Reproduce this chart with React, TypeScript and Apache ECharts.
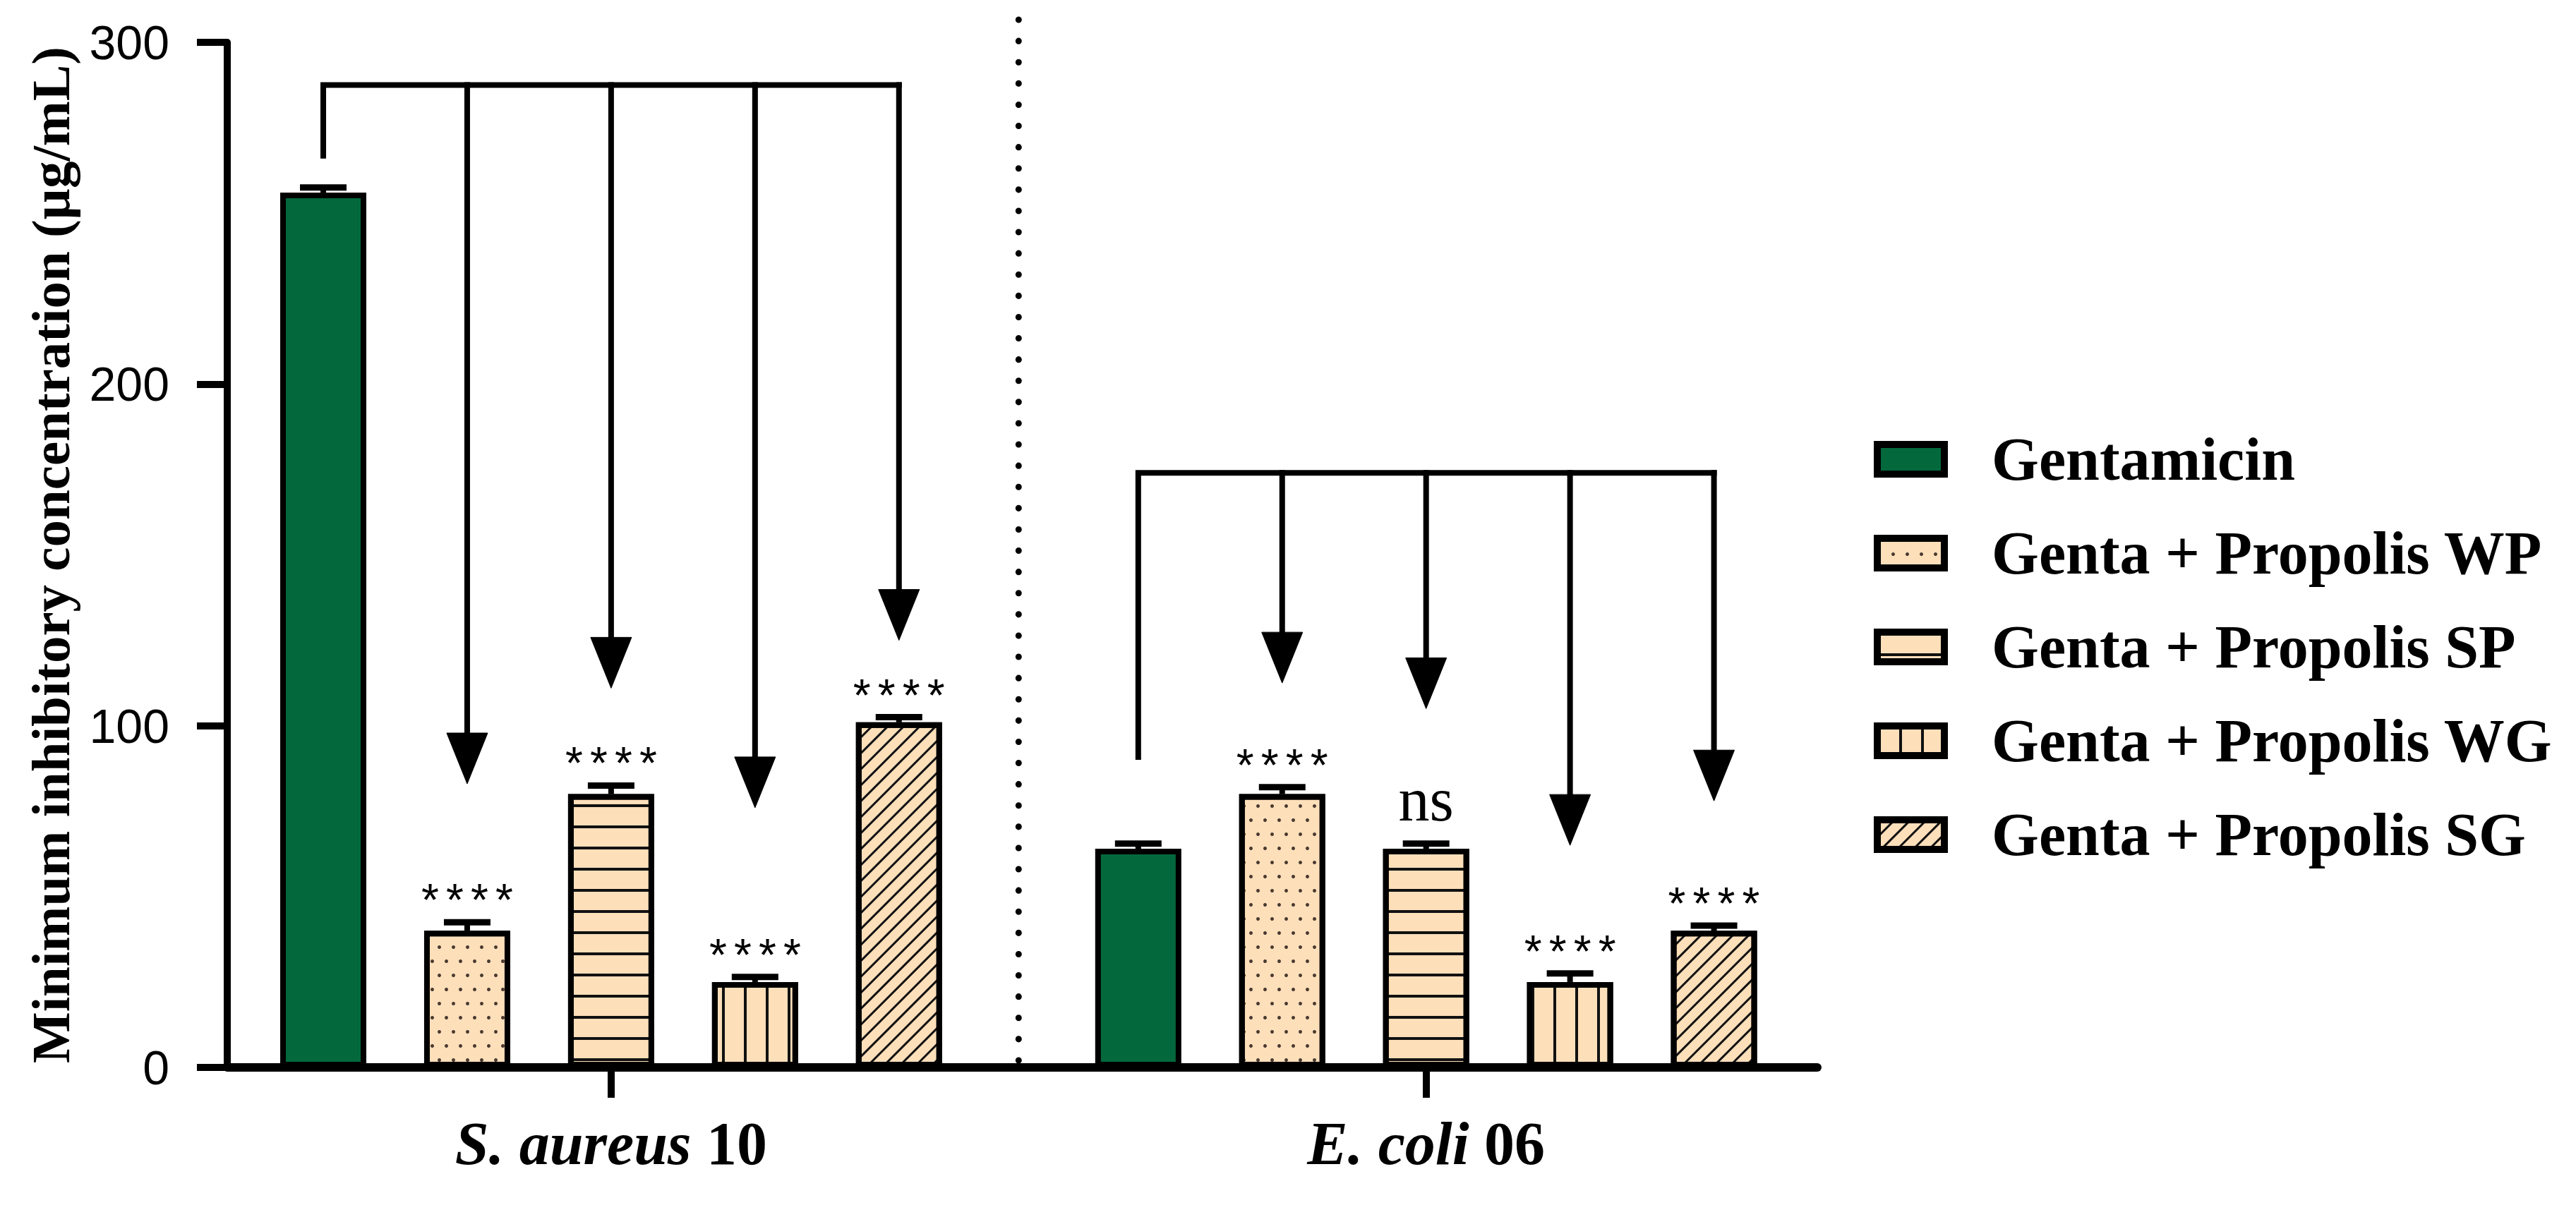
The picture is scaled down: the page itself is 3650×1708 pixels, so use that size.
import React, { useEffect, useRef } from "react";
import * as echarts from "echarts";

// ---- data ----
const species = ["S. aureus", "E. coli"];
const strains = ["10", "06"];
const seriesNames = [
  "Gentamicin",
  "Genta + Propolis WP",
  "Genta + Propolis SP",
  "Genta + Propolis WG",
  "Genta + Propolis SG",
];
const gentamicin = [256, 64];
const propolisWP = [40, 80];
const propolisSP = [80, 64];
const propolisWG = [25, 25];
const propolisSG = [101, 40];
const gentamicinErr = [1.5, 1.5];
const propolisWPErr = [2.5, 2];
const propolisSPErr = [2.5, 1.5];
const propolisWGErr = [1.5, 2.5];
const propolisSGErr = [1.5, 1.5];
const sigSAureus = ["", "****", "****", "****", "****"];
const sigEColi = ["", "****", "ns", "****", "****"];
const bracketTop = [287.5, 174];
const bracketLeftEnd = [266, 90];
const arrowTipsSAureus = [83, 111, 76, 125];
const arrowTipsEColi = [112.5, 105, 65, 78];
const yTicks = [0, 100, 200, 300];
const dividerTop = 307;

const values = [gentamicin, propolisWP, propolisSP, propolisWG, propolisSG];
const errors = [gentamicinErr, propolisWPErr, propolisSPErr, propolisWGErr, propolisSGErr];
const sigs = [sigSAureus, sigEColi];
const arrowTips = [arrowTipsSAureus, arrowTipsEColi];

// ---- layout / style ----
const W = 3650;
const H = 1708;
const BAR_STEP = 0.1766;
const X_MIN = -0.471;
const X_MAX = 1.48;
const GREEN = "#03693D";
const PEACH = "#FDDFBA";
const SERIF = "'Liberation Serif', 'Times New Roman', serif";
const SANS = "'Liberation Sans', Arial, sans-serif";

const decals: any[] = [
  null,
  {
    symbol: "circle",
    symbolSize: 1,
    color: "#4a3a30",
    dashArrayX: [
      [5, 15],
      [0, 10, 5, 5],
    ],
    dashArrayY: [5, 15],
  },
  {
    symbol: "rect",
    symbolSize: 1,
    symbolKeepAspect: false,
    color: "#111",
    dashArrayX: [1, 0],
    dashArrayY: [4, 26],
  },
  {
    symbol: "rect",
    symbolSize: 1,
    symbolKeepAspect: false,
    color: "#111",
    dashArrayX: [4, 27],
    dashArrayY: [1, 0],
  },
  {
    symbol: "rect",
    symbolSize: 1,
    symbolKeepAspect: false,
    color: "#111",
    dashArrayX: [1, 0],
    dashArrayY: [3, 13],
    rotation: -Math.PI / 4,
  },
];

const xOf = (c: number, s: number) => c + (s - 2) * BAR_STEP;

function buildOption(): any {
  const barSeries = seriesNames.map((name, s) => ({
    type: "bar",
    name,
    data: values[s].map((v, c) => [xOf(c, s), v]),
    barWidth: 122,
    barGap: "-100%",
    z: 2,
    itemStyle: {
      color: s === 0 ? GREEN : PEACH,
      borderColor: "#000",
      borderWidth: 8,
      ...(decals[s] ? { decal: decals[s] } : {}),
    },
  }));

  const errData: any[] = [];
  const sigData: any[] = [];
  values.forEach((arr, s) =>
    arr.forEach((v, c) => {
      errData.push([xOf(c, s), v, errors[s][c]]);
      sigData.push([xOf(c, s), v + errors[s][c], s, c]);
    })
  );

  const errorSeries = {
    type: "custom",
    name: "err",
    z: 3,
    clip: false,
    data: errData,
    renderItem: (params: any, api: any) => {
      const x = api.value(0);
      const v = api.value(1);
      const e = api.value(2);
      const p0 = api.coord([x, v]);
      const p1 = api.coord([x, v + e]);
      return {
        type: "group",
        children: [
          {
            type: "line",
            shape: { x1: p0[0], y1: p0[1], x2: p1[0], y2: p1[1] },
            style: { stroke: "#000", lineWidth: 8 },
          },
          {
            type: "line",
            shape: { x1: p1[0] - 33, y1: p1[1], x2: p1[0] + 33, y2: p1[1] },
            style: { stroke: "#000", lineWidth: 9 },
          },
        ],
      };
    },
  };

  const sigSeries = {
    type: "custom",
    name: "sig",
    z: 4,
    clip: false,
    data: sigData,
    renderItem: (params: any, api: any) => {
      const x = api.value(0);
      const top = api.value(1);
      const s = api.value(2);
      const c = api.value(3);
      const label = sigs[c][s];
      const p = api.coord([x, top]);
      const children: any[] = [];
      if (label && /^\*+$/.test(label)) {
        const n = label.length;
        for (let i = 0; i < n; i++) {
          children.push({
            type: "text",
            x: p[0] + (i - (n - 1) / 2) * 35,
            y: p[1] - 31,
            style: {
              text: "*",
              fontSize: 64,
              fontFamily: SANS,
              fill: "#000",
              textAlign: "center",
              textVerticalAlign: "middle",
            },
          });
        }
      } else if (label) {
        children.push({
          type: "text",
          x: p[0],
          y: p[1] - 62,
          style: {
            text: label,
            fontSize: 88,
            fontFamily: SERIF,
            fill: "#000",
            textAlign: "center",
            textVerticalAlign: "middle",
          },
        });
      }
      return { type: "group", children };
    },
  };

  const bracketSeries = {
    type: "custom",
    name: "brackets",
    z: 4,
    clip: false,
    data: [[0], [1]],
    renderItem: (params: any, api: any) => {
      const c = params.dataIndex;
      const top = api.coord([xOf(c, 0), bracketTop[c]]);
      const leftEnd = api.coord([xOf(c, 0), bracketLeftEnd[c]]);
      const lastX = api.coord([xOf(c, 4), 0])[0];
      const children: any[] = [
        {
          type: "polyline",
          shape: {
            points: [
              [leftEnd[0], leftEnd[1]],
              [top[0], top[1]],
              [lastX + 4, top[1]],
            ],
          },
          style: { stroke: "#000", lineWidth: 8, fill: null, lineJoin: "miter" },
        },
      ];
      arrowTips[c].forEach((tipV, k) => {
        const tip = api.coord([xOf(c, k + 1), tipV]);
        const headTop = tip[1] - 72;
        children.push({
          type: "line",
          shape: { x1: tip[0], y1: top[1] - 4, x2: tip[0], y2: headTop + 4 },
          style: { stroke: "#000", lineWidth: 8 },
        });
        children.push({
          type: "polygon",
          shape: {
            points: [
              [tip[0] - 29, headTop],
              [tip[0] + 29, headTop],
              [tip[0], tip[1]],
            ],
          },
          style: { fill: "#000", stroke: "#000", lineWidth: 1 },
        });
      });
      return { type: "group", children };
    },
  };

  const dividerSeries = {
    type: "custom",
    name: "divider",
    z: 1,
    clip: false,
    data: [[(0 + 1) / 2]],
    renderItem: (params: any, api: any) => {
      const x = api.value(0);
      const p0 = api.coord([x, 0]);
      const p1 = api.coord([x, dividerTop]);
      return {
        type: "line",
        shape: { x1: p0[0], y1: p0[1] - 10, x2: p1[0], y2: p1[1] },
        style: { stroke: "#000", lineWidth: 9, lineCap: "round", lineDash: [0.1, 30] },
      };
    },
  };

  return {
    animation: false,
    backgroundColor: "#fff",
    grid: {
      left: 322,
      right: W - 2575,
      top: 60,
      bottom: H - 1513,
      containLabel: false,
      outerBoundsMode: "none",
    },
    legend: {
      orient: "vertical",
      left: 2650,
      top: 603,
      itemWidth: 95,
      itemHeight: 42,
      itemGap: 47,
      icon: "rect",
      selectedMode: false,
      data: seriesNames,
      itemStyle: { borderColor: "#000", borderWidth: 10 },
      textStyle: {
        fontFamily: SERIF,
        fontWeight: "bold",
        fontSize: 86,
        color: "#000",
        padding: [0, 0, 0, 62],
      },
    },
    xAxis: {
      type: "value",
      min: X_MIN,
      max: X_MAX,
      splitLine: { show: false },
      axisLine: { show: true, onZero: false, lineStyle: { color: "#000", width: 12 } },
      axisTick: {
        show: true,
        customValues: [0, 1],
        length: 43,
        lineStyle: { color: "#000", width: 10 },
      },
      axisLabel: {
        show: true,
        customValues: [0, 1],
        margin: 65,
        fontFamily: SERIF,
        fontWeight: "bold",
        fontSize: 86,
        color: "#000",
        formatter: (val: number) => {
          const i = Math.round(val);
          return `{i|${species[i]}} {b|${strains[i]}}`;
        },
        rich: {
          i: { fontFamily: SERIF, fontWeight: "bold", fontStyle: "italic", fontSize: 86, color: "#000" },
          b: { fontFamily: SERIF, fontWeight: "bold", fontSize: 86, color: "#000" },
        },
      },
    },
    yAxis: {
      type: "value",
      min: yTicks[0],
      max: yTicks[yTicks.length - 1],
      interval: yTicks[1] - yTicks[0],
      name: "Minimum inhibitory concentration (µg/mL)",
      nameLocation: "middle",
      nameGap: 212,
      nameTextStyle: {
        fontFamily: SERIF,
        fontWeight: "bold",
        fontSize: 77,
        color: "#000",
      },
      splitLine: { show: false },
      axisLine: { show: true, onZero: false, lineStyle: { color: "#000", width: 10 } },
      axisTick: { show: true, length: 43, lineStyle: { color: "#000", width: 10 } },
      axisLabel: {
        margin: 82,
        fontFamily: SANS,
        fontSize: 68,
        color: "#000",
      },
    },
    series: [...barSeries, errorSeries, sigSeries, bracketSeries, dividerSeries],
  };
}

export default function App() {
  const ref = useRef<HTMLDivElement>(null);
  useEffect(() => {
    if (!ref.current) return;
    const chart = echarts.init(ref.current, undefined, { renderer: "svg" });
    chart.setOption(buildOption());
    return () => chart.dispose();
  }, []);
  return (
    <div
      ref={ref}
      style={{ position: "absolute", left: 0, top: 0, width: W, height: H, background: "#fff" }}
    />
  );
}
